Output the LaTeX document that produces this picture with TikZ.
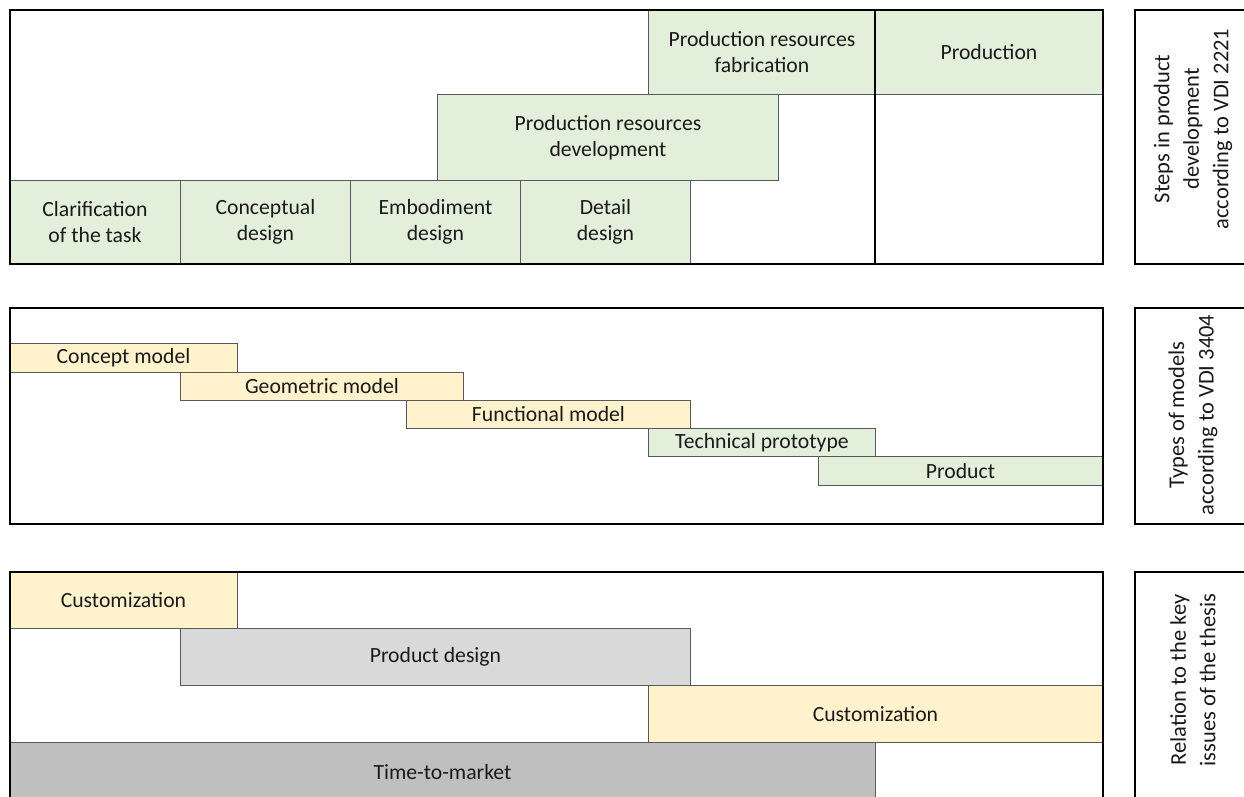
\documentclass[tikz,border=0pt]{standalone}
\usepackage{fontspec}
\setmainfont{Carlito}
\definecolor{greenfill}{HTML}{E2EFDA}
\definecolor{yellowfill}{HTML}{FFF2CC}
\definecolor{greyA}{HTML}{D9D9D9}
\definecolor{greyB}{HTML}{BFBFBF}
\definecolor{edge}{HTML}{595959}
\definecolor{ink}{HTML}{1A1A1A}
\newcommand{\boxfont}{\fontsize{21.7}{26}\selectfont}
\newcommand{\sidefont}{\fontsize{22.5}{29.5}\selectfont}
\tikzset{
  sz/.style 2 args={minimum width=#1pt, minimum height=#2pt},
  phase/.style={draw=edge, line width=0.9pt, anchor=north west, inner sep=0pt,
    align=center, font=\boxfont, text=ink},
  greenbox/.style={phase, fill=greenfill},
  yellowbox/.style={phase, fill=yellowfill},
  lightbox/.style={phase, fill=greyA},
  darkbox/.style={phase, fill=greyB},
  panel/.style={draw=black, line width=1.8pt, anchor=north west, inner sep=0pt},
  sidetext/.style={rotate=90, align=center, font=\sidefont, text=ink, inner sep=0pt},
}
\begin{document}
\begin{tikzpicture}[x=1pt, y=-1pt]
\useasboundingbox (0,0) rectangle (1244,796);
\clip (0,0) rectangle (1244,796);

% --- Steps in product development (VDI 2221)
\node[greenbox, sz={171}{83}] (clar) at (9,180) {Clarification\\of the task};
\node[greenbox, sz={170}{83}] (conc) at (180,180) {Conceptual\\design};
\node[greenbox, sz={170}{83}] (embo) at (350,180) {Embodiment\\design};
\node[greenbox, sz={170}{83}] (deta) at (520,180) {Detail\\design};
\node[greenbox, sz={341}{86}] (prdev) at (437,94) {Production resources\\development};
\node[greenbox, sz={227}{85}] (prfab) at (648,9) {Production resources\\fabrication};
\node[greenbox, sz={227}{85}] (prod) at (875,9) {Production};
\node[panel, sz={1093}{254}] (panelA) at (9,9) {};
\draw[black, line width=1.8pt] (prod.north west) -- (prod.north west |- panelA.south);
\node[panel, sz={118}{254}] (labA) at (1134,9) {};
\node[sidetext] (labAtext) at (1193,129) {Steps in product\\development\\according to VDI 2221};

% --- Types of models (VDI 3404)
\node[yellowbox, sz={228}{29}] (cmod) at (9,343) {Concept model};
\node[yellowbox, sz={283}{28}] (gmod) at (180,372) {Geometric model};
\node[yellowbox, sz={284}{28}] (fmod) at (406,400) {Functional model};
\node[greenbox, sz={227}{28}] (tproto) at (648,428) {Technical prototype};
\node[greenbox, sz={284}{29}] (pmod) at (818,456) {Product};
\node[panel, sz={1093}{216}] (panelB) at (9,307) {};
\node[panel, sz={118}{216}] (labB) at (1134,307) {};
\node[sidetext] (labBtext) at (1193,415) {Types of models\\according to VDI 3404};

% --- Relation to the key issues
\node[yellowbox, sz={228}{57}] (cust1) at (9,571) {Customization};
\node[lightbox, sz={510}{57}] (pdes) at (180,628) {Product design};
\node[yellowbox, sz={454}{57}] (cust2) at (648,685) {Customization};
\node[darkbox, sz={866}{60}] (ttm) at (9,742) {Time-to-market};
\node[panel, sz={1093}{231}] (panelC) at (9,571) {};
\node[panel, sz={118}{231}] (labC) at (1134,571) {};
\node[sidetext] (labCtext) at (1193,680) {Relation to the key\\issues of the thesis};
\end{tikzpicture}
\end{document}
